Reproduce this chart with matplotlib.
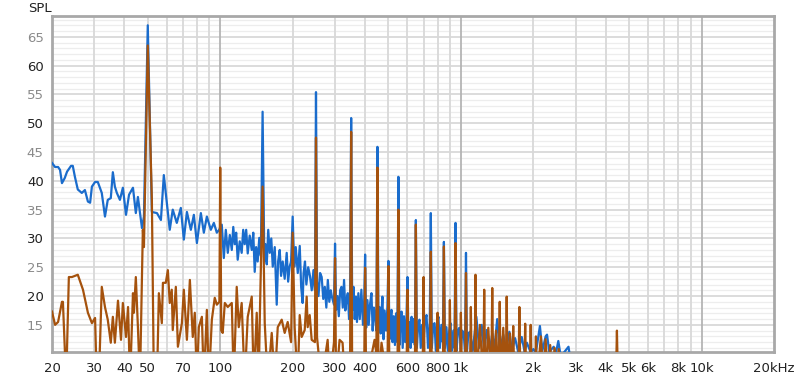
import matplotlib
matplotlib.use("Agg")
import matplotlib.pyplot as plt
from matplotlib.ticker import NullLocator

# blue trace: frequency (Hz), level (dB)
blue_f = [20.0, 20.6, 21.2, 21.6, 22.0, 22.6, 23.1, 24.0, 24.4, 24.9, 25.6, 26.6, 27.4, 28.2, 28.8,
          29.3, 30.2, 31.0, 32.2, 33.2, 34.1, 35.1, 35.8, 36.5, 37.2, 38.3, 39.4, 40.6, 41.8, 43.4,
          44.6, 45.5, 47.3, 48.2, 50.0, 52.0, 54.6, 56.7, 58.3, 60.0, 61.7, 63.5, 66.0, 68.6, 70.6,
          72.7, 75.5, 77.7, 80.0, 83.1, 85.5, 88.0, 91.4, 94.1, 96.8, 99.0, 101.5, 103.5, 105.5,
          107.5, 109.6, 111.7, 113.3, 114.9, 116.5, 118.2, 120.5, 122.8, 124.6, 126.4, 128.2,
          130.1, 132.6, 135.2, 137.2, 139.1, 141.0, 143.1, 145.3, 147.5, 150, 152.5, 154.2, 156.1,
          158.3, 160.6, 163.0, 165.3, 168.5, 171.7, 174.0, 176.7, 179.0, 181.8, 185.3, 188.9,
          191.5, 194.3, 197, 200, 203, 206, 210, 214, 217, 220,
          222, 225, 228, 232, 236, 240, 244, 247.5, 250, 252.5, 256, 260, 264, 268, 272, 276, 280,
          284, 288, 291, 297, 300, 303, 307, 311, 315, 319, 323, 327, 331, 335, 339, 343, 346.5,
          350, 353.5, 358, 362, 366, 370, 375, 380, 386, 392, 396, 400, 404, 409, 414, 419, 425,
          430, 435, 440, 445.5, 450, 454.5, 459, 464, 468, 472, 477, 482, 489, 495, 500, 505, 510,
          515, 520, 526, 532, 538, 544.5, 550, 555.5, 561, 567, 573, 580, 587, 594, 600, 606, 612,
          618, 624, 630, 637, 643.5, 650, 656.5, 664, 673, 681, 690, 700, 710, 720, 730, 742.5,
          750, 757.5, 767, 777, 787, 797, 807, 818, 830, 841.5, 850, 858.5, 871, 883, 895, 905,
          918, 930, 940.5, 950, 959.5, 972, 986, 1000, 1013, 1027, 1040, 1050, 1060, 1075, 1090,
          1120, 1160, 1190, 1220, 1250, 1280, 1320, 1350, 1380, 1415, 1450, 1500, 1540, 1590,
          1630, 1680, 1730, 1790, 1840, 1880, 1950, 2000, 2050, 2130, 2180, 2250, 2280, 2330,
          2430, 2480, 2540, 2600, 2800, 2850, 2950]
blue_db = [43.1, 42.4, 42.4, 41.9, 39.6, 40.5, 41.6, 42.6, 42.6, 40.7, 38.5, 37.9, 38.4, 36.4, 36.2,
           39.0, 39.8, 39.8, 37.9, 33.8, 36.7, 37.0, 41.5, 39.0, 37.9, 36.7, 38.8, 34.1, 37.6, 38.8,
           34.4, 37.2, 31.8, 33.8, 67.0, 34.6, 34.4, 33.2, 41.0, 36.2, 31.5, 35.0, 32.7, 35.3, 29.8,
           34.6, 31.5, 34.1, 29.2, 34.4, 31.0, 33.8, 31.5, 32.7, 31.0, 31.5, 32.4, 26.6, 31.5,
           27.5, 30.6, 28.0, 32.0, 29.0, 31.0, 26.3, 29.5, 27.5, 31.5, 29.0, 31.5,
           27.4, 30.5, 28.0, 31.0, 24.2, 28.5, 26.0, 30.1, 27.0, 52.0, 26.0, 29.0, 25.5,
           31.5, 27.5, 30.0, 25.1, 28.5, 18.5, 26.0, 28.0, 23.5, 26.0, 23.0, 27.5,
           22.5, 25.1, 26.0, 33.8, 25.1, 28.5, 24.0, 28.7, 21.5, 18.8,
           24.0, 26.0, 22.0, 25.0, 23.5, 21.0, 24.5, 21.0, 55.4, 22.5, 20.0, 24.0, 23.3, 19.5, 21.6, 18.0, 22.8,
           19.0, 21.0, 19.9, 18.5, 29.1, 17.6, 20.0, 16.5, 21.0, 21.6, 18.0, 22.8, 17.5, 19.5, 20.5, 16.0, 19.0,
           50.9, 17.5, 21.6, 16.0, 19.9, 15.5, 20.5, 16.0, 21.1, 15.0, 18.0, 27.2, 14.5, 19.3, 15.0, 18.5, 20.5,
           14.0, 18.0, 16.5, 14.0, 45.9, 14.0, 18.1, 13.5, 17.0, 19.9, 12.5, 17.5, 14.0, 18.0, 26.1, 12.5, 16.5,
           17.6, 12.0, 16.5, 11.5, 17.0, 12.0, 40.7, 11.5, 16.0, 17.3, 11.0, 16.5, 12.0, 16.0, 23.3, 11.5, 15.5,
           11.0, 16.4, 12.0, 16.0, 11.5, 33.2, 11.0, 15.0, 15.9, 11.0, 15.0, 12.0, 16.0, 16.7, 11.0, 15.5,
           34.4, 11.0, 15.0, 15.3, 10.5, 15.5, 16.4, 11.0, 15.0, 12.0, 29.4, 11.0, 14.6, 10.5, 14.0, 15.3,
           10.5, 14.0, 11.0, 32.7, 10.5, 14.0, 14.5, 10.5, 14.0, 13.5, 10.5, 27.5, 10.5, 13.5, 13.8,
           10.5, 16.4, 11.0, 15.0, 10.5, 14.1, 10.5, 13.5, 10.8, 16.0, 10.5, 13.3, 10.5, 13.8,
           10.5, 12.7, 10.3, 12.9, 10.3, 11.9, 10.2, 10.8, 10.2, 14.8, 10.5, 13.0, 13.3, 10.3,
           11.2, 10.0, 12.2, 9.5, 11.2, 9.0, 5.0]

# brown trace: frequency (Hz), level (dB)
brown_f = [20.0, 20.6, 21.2, 22.0, 22.2, 22.9, 23.5, 24.2, 25.6, 26.9, 28.2, 29.3, 30.2, 30.7, 31.3,
           32.2, 33.2, 34.1, 35.1, 35.8, 36.5, 37.6, 38.7, 39.4, 40.6, 41.4, 42.2, 43.4, 43.8, 44.6,
           45.5, 46.4, 47.7, 48.2, 50.0, 52.0, 53.0, 54.6, 55.6, 57.2, 57.8, 59.4, 60.6, 61.7, 62.9,
           63.5, 65.4, 66.7, 69.3, 70.6, 72.7, 74.8, 76.9, 78.4, 80.0, 81.5, 83.9, 85.5, 88.0, 89.7,
           92.3, 94.9, 96.8, 99.2, 100, 101, 102.4, 104.5, 107.5, 111.7, 113.8, 117.1, 119.4, 122.8,
           126.4, 130.1, 135.2, 137.8, 141.8, 144.5, 146.0, 150, 153.1, 157.5, 163.7, 168.5, 173.4,
           180.1, 185.3, 190.7, 197, 200, 203.8, 209.8, 213.9, 218.0, 224.4, 228.7, 230.9, 235.4,
           239.9, 247.5, 250, 252.5, 263, 279.5, 285, 297, 300, 303, 313.3, 322.4, 330, 346.5, 350,
           353.5, 396, 400, 404, 437.8, 445.5, 450, 454.5, 468, 495, 500, 505, 545, 550, 555, 594,
           600, 606, 643.5, 650, 656.5, 693, 700, 707, 742.5, 750, 757.5, 792, 800, 808, 841.5,
           850, 858.5, 891, 900, 909, 940.5, 950, 959.5, 990, 1000, 1010, 1040, 1050, 1060, 1089,
           1100, 1111, 1139, 1150, 1161, 1200, 1238, 1250, 1262, 1300, 1337, 1350, 1363, 1400, 1436,
           1450, 1464, 1500, 1535, 1550, 1565, 1600, 1633, 1650, 1667, 1732, 1750, 1768, 1831, 1850,
           1869, 1930, 1950, 1970, 2030, 2050, 2070, 2150, 2200, 2250, 2300, 2350, 2400, 2450, 2500,
           2550, 2600, 4405, 4450, 4495]
brown_db = [17.3, 15.0, 15.5, 19.0, 19.0, 5.0, 23.3, 23.3, 23.7, 21.1, 17.1, 15.3, 16.2, 5.0, 5.0,
            21.6, 18.1, 15.9, 11.9, 16.4, 11.9, 19.2, 12.4, 18.8, 12.9, 18.1, 5.0, 20.5, 17.1, 23.3,
            14.6, 5.0, 31.5, 28.5, 63.5, 36.7, 5.0, 5.0, 20.5, 15.3, 22.3, 22.3, 24.5, 18.8, 21.1,
            14.1, 21.6, 11.2, 15.3, 21.1, 12.4, 22.8, 12.9, 17.1, 5.0, 14.6, 16.4, 5.0, 17.6, 5.0,
            15.9, 19.7, 18.5, 19.0, 42.3, 14.0, 13.6, 18.8, 18.1, 18.8, 5.0, 21.6, 14.6, 18.8,
            5.0, 16.4, 19.9, 5.0, 17.1, 5.0, 15.9, 39.0, 15.3, 5.0, 13.6, 5.0, 14.6,
            15.9, 13.6, 15.5, 12.0, 31.0, 14.6, 5.0, 16.7, 12.9, 14.1, 19.9, 14.6, 16.7,
            12.4, 12.0, 47.5, 12.9, 5.0, 12.4, 5.0, 12.0, 26.6, 5.0, 12.4, 11.9, 5.0, 10.0, 48.5,
            5.0, 5.0, 24.9, 5.0, 12.4, 10.0, 42.3, 5.0, 11.9, 5.0, 25.2, 5.0, 5.0, 35.0, 5.0, 5.0,
            21.1, 5.0, 5.0, 32.4, 5.0, 5.0, 23.3, 5.0, 5.0, 27.7, 5.0, 5.0, 17.1, 5.0, 5.0,
            28.6, 5.0, 5.0, 19.3, 5.0, 5.0, 29.2, 5.0, 5.0, 17.1, 5.0, 5.0, 24.0, 5.0, 5.0,
            18.1, 5.0, 5.0, 23.7, 5.0, 15.0, 5.0, 21.1, 5.0, 14.5, 5.0, 21.4, 5.0, 14.0, 5.0,
            19.0, 5.0, 14.5, 5.0, 19.9, 5.0, 13.5, 5.0, 14.8, 5.0, 5.0, 18.1, 5.0, 5.0, 15.2,
            5.0, 5.0, 15.0, 5.0, 5.0, 13.0, 5.0, 13.0, 5.0, 12.5, 5.0, 11.5, 5.0, 11.0, 5.0,
            10.8, 5.0, 5.0, 14.0, 5.0]

x_ticks = [20, 30, 40, 50, 70, 100, 200, 300, 400, 600, 800, 1000, 2000, 3000, 4000, 5000,
           6000, 8000, 10000, 20000]
x_labels = ['20', '30', '40', '50', '70', '100', '200', '300', '400', '600', '800', '1k', '2k',
            '3k', '4k', '5k', '6k', '8k', '10k', '20kHz']
y_ticks = [15, 20, 25, 30, 35, 40, 45, 50, 55, 60, 65]

fig = plt.figure(figsize=(8, 3.74), dpi=100)
ax = fig.add_axes([0.065, 0.059, 0.9025, 0.898])

# grid
for v in range(11, 69):
    if v % 5 == 0:
        ax.axhline(v, color='#d9d9d9', lw=1.3, zorder=0)
    else:
        ax.axhline(v, color='#ededed', lw=0.9, zorder=0)
for dec in [10, 100, 1000, 10000]:
    for m in range(1, 10):
        f = dec * m
        if f <= 20 or f >= 20000:
            continue
        if m == 1:
            ax.axvline(f, color='#b4b4b4', lw=1.3, zorder=1)
        else:
            ax.axvline(f, color='#d8d8d8', lw=1.3, zorder=1)

ax.plot(blue_f, blue_db, color='#1a6ccc', lw=1.6, zorder=3)
ax.plot(brown_f, brown_db, color='#a5520d', lw=1.6, zorder=4)

ax.set_xscale('log')
ax.set_xlim(20, 20000)
ax.set_ylim(10.3, 68.6)
ax.xaxis.set_minor_locator(NullLocator())
ax.set_xticks(x_ticks, x_labels)
ax.set_yticks(y_ticks)
ax.tick_params(length=0, labelsize=9.5, colors='#222222')
ax.tick_params(axis='x', pad=7)
ax.tick_params(axis='y', pad=6)
for lab in ax.get_yticklabels():
    if int(lab.get_text()) % 10 != 0:
        lab.set_color('#8a8a8a')

for s in ax.spines.values():
    s.set_color('#a8a8a8')
    s.set_linewidth(2)

fig.text(0.035, 0.976, 'SPL', fontsize=9.5, va='center', ha='left', color='#222222')

fig.savefig('out.png', dpi=100)
